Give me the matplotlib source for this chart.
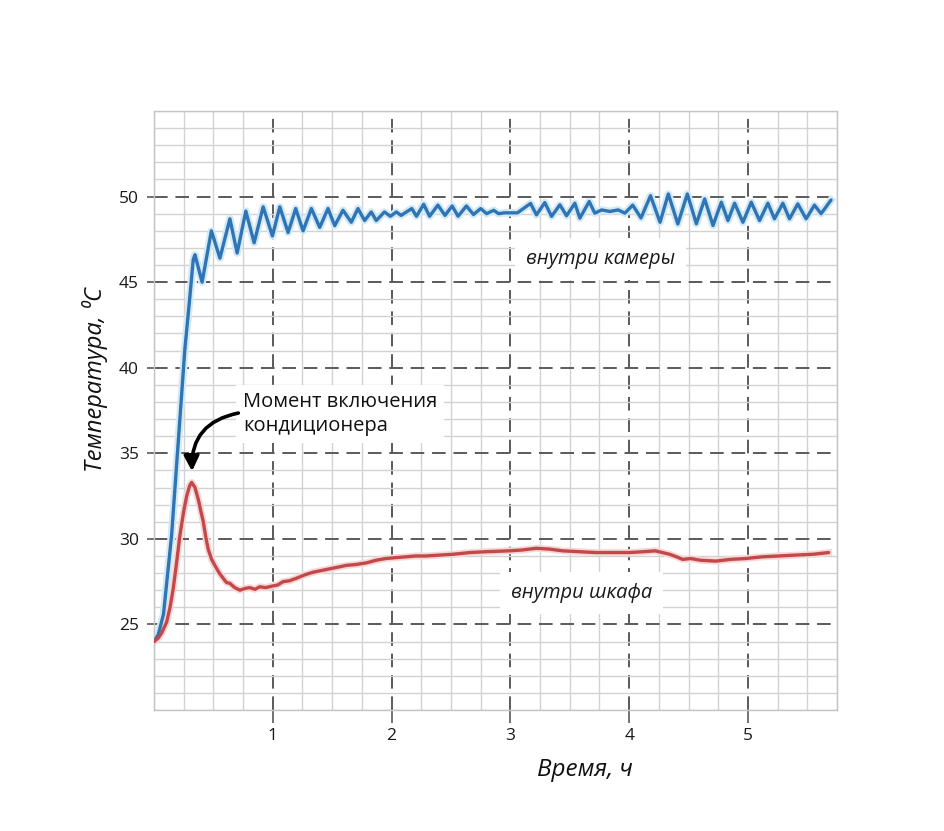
import matplotlib
matplotlib.use("Agg")
import matplotlib.pyplot as plt
from matplotlib.ticker import MultipleLocator, FixedLocator

plt.rcParams['font.family'] = ['Open Sans', 'DejaVu Sans']

# ---- data ----
blue_t = [0.0, 0.036, 0.08, 0.148, 0.26, 0.30, 0.33, 0.345, 0.405, 0.483, 0.555, 0.639, 0.70,
          0.773, 0.843, 0.919, 0.997, 1.059, 1.129, 1.193, 1.255, 1.325, 1.395, 1.465, 1.521,
          1.591, 1.661, 1.717, 1.773, 1.829, 1.871, 1.94, 1.99, 2.04, 2.08, 2.17, 2.21, 2.27,
          2.32, 2.39, 2.45, 2.51, 2.56, 2.63, 2.69, 2.75, 2.80, 2.86, 2.90, 2.95, 3.06, 3.17,
          3.22, 3.29, 3.347, 3.417, 3.473, 3.543, 3.585, 3.664, 3.711, 3.768, 3.838, 3.908,
          3.964, 4.03, 4.10, 4.18, 4.26, 4.33, 4.41, 4.49, 4.566, 4.636, 4.706, 4.776, 4.832,
          4.888, 4.958, 5.028, 5.098, 5.168, 5.224, 5.294, 5.35, 5.42, 5.49, 5.56, 5.616, 5.70]
blue_T = [24.0, 24.4, 25.6, 30.2, 41.1, 44.0, 46.3, 46.6, 45.0, 48.0, 46.4, 48.7, 46.7,
          49.15, 47.3, 49.4, 47.7, 49.4, 47.9, 49.3, 48.0, 49.3, 48.2, 49.3, 48.3,
          49.2, 48.5, 49.3, 48.6, 49.1, 48.6, 49.1, 48.85, 49.1, 48.9, 49.3, 48.85, 49.55,
          48.85, 49.5, 48.9, 49.45, 48.85, 49.45, 48.95, 49.3, 49.0, 49.2, 49.0, 49.05, 49.05, 49.6,
          48.93, 49.65, 48.84, 49.52, 48.88, 49.61, 48.74, 49.71, 49.03, 49.22, 49.13, 49.22,
          49.03, 49.5, 48.75, 50.05, 48.5, 50.15, 48.4, 50.15, 48.41, 49.86, 48.31, 49.67, 48.6,
          49.61, 48.5, 49.67, 48.6, 49.61, 48.7, 49.61, 48.7, 49.57, 48.7, 49.5, 49.0, 49.8]

red_t = [0.0, 0.035, 0.065, 0.107, 0.135, 0.162, 0.19, 0.218, 0.25, 0.275, 0.30, 0.317, 0.345,
         0.373, 0.395, 0.415, 0.436, 0.456, 0.485, 0.512, 0.55, 0.582, 0.61, 0.639, 0.68, 0.723,
         0.765, 0.807, 0.85, 0.89, 0.94, 1.0, 1.04, 1.087, 1.14, 1.2, 1.27, 1.34, 1.41, 1.48,
         1.55, 1.62, 1.7, 1.79, 1.87, 1.95, 2.03, 2.12, 2.2, 2.29, 2.4, 2.52, 2.66, 2.8, 2.99,
         3.1, 3.22, 3.33, 3.44, 3.58, 3.72, 3.86, 4.0, 4.12, 4.22, 4.28, 4.34, 4.40, 4.45, 4.52,
         4.6, 4.73, 4.85, 4.98, 5.12, 5.26, 5.4, 5.55, 5.68]
red_T = [24.0, 24.2, 24.5, 25.15, 26.0, 27.1, 28.6, 30.2, 31.6, 32.5, 33.1, 33.3, 33.0,
         32.3, 31.6, 31.0, 30.1, 29.4, 28.8, 28.45, 28.0, 27.7, 27.45, 27.4, 27.15, 27.0,
         27.1, 27.15, 27.05, 27.2, 27.15, 27.25, 27.3, 27.5, 27.55, 27.7, 27.9, 28.05, 28.15, 28.25,
         28.35, 28.45, 28.5, 28.6, 28.75, 28.85, 28.9, 28.95, 29.0, 29.0, 29.05, 29.1, 29.2, 29.25, 29.3,
         29.35, 29.45, 29.4, 29.3, 29.25, 29.2, 29.2, 29.2, 29.25, 29.3, 29.2, 29.1, 28.95, 28.8, 28.85,
         28.75, 28.7, 28.8, 28.85, 28.95, 29.0, 29.05, 29.1, 29.2]

x_ticks = [1, 2, 3, 4, 5]
y_ticks = [25, 30, 35, 40, 45, 50]

label_blue = "внутри камеры"
label_red = "внутри шкафа"
note_text = "Момент включения\nкондиционера"
xlabel = "Время, ч"
ylabel = "Температура, \u2070C"

# ---- figure ----
fig = plt.figure(figsize=(9.45, 8.31), dpi=100)
ax = fig.add_axes([154/945, 1-710/831, (837-154)/945, (710-111)/831])

ax.set_xlim(0, 5.75)
ax.set_ylim(20, 55)

ax.xaxis.set_major_locator(FixedLocator(x_ticks))
ax.yaxis.set_major_locator(FixedLocator(y_ticks))
ax.xaxis.set_minor_locator(MultipleLocator(0.25))
ax.yaxis.set_minor_locator(MultipleLocator(1))

ax.grid(which='minor', color='#d2d2d2', linewidth=1.0, linestyle='-')
ax.grid(which='major', color='#5a5a5a', linewidth=1.4, linestyle=(0, (7, 4)))
ax.set_axisbelow(True)

for s in ax.spines.values():
    s.set_color('#c4c4c4')
    s.set_linewidth(1.0)

ax.tick_params(which='minor', length=0)
ax.tick_params(axis='x', which='major', length=9, color='#5a5a5a', width=1.2,
               labelsize=12.5, labelcolor='#1a1a1a', pad=4)
ax.tick_params(axis='y', which='major', length=5, color='#5a5a5a', width=1.2,
               labelsize=12.5, labelcolor='#1a1a1a', pad=6)

# glow + lines
ax.plot(blue_t, blue_T, color='#d3eaf6', linewidth=5.5, solid_joinstyle='round', zorder=2)
ax.plot(blue_t, blue_T, color='#2f74b5', linewidth=2.4, solid_joinstyle='round',
        solid_capstyle='round', zorder=3)
ax.plot(red_t, red_T, color='#f5d8d7', linewidth=5, solid_joinstyle='round', zorder=2)
ax.plot(red_t, red_T, color='#c4484a', linewidth=2.4, solid_joinstyle='round',
        solid_capstyle='round', zorder=3)

ax.text(3.76, 46.35, label_blue, ha='center', va='center', fontsize=14.5,
        style='italic', color='#1a1a1a', bbox=dict(facecolor='white', edgecolor='none', pad=8), zorder=4)
ax.text(3.60, 26.85, label_red, ha='center', va='center', fontsize=14.5,
        style='italic', color='#1a1a1a', bbox=dict(facecolor='white', edgecolor='none', pad=8), zorder=4)

ax.text(0.75, 37.3, note_text, ha='left', va='center', fontsize=14.5,
        color='#111111', linespacing=1.3, bbox=dict(facecolor='white', edgecolor='none', pad=5), zorder=4)
ax.annotate('', xy=(0.32, 33.95), xytext=(0.71, 37.35),
            arrowprops=dict(arrowstyle='-|>,head_length=0.9,head_width=0.45', color='black',
                            lw=2.6, connectionstyle='arc3,rad=0.42', shrinkA=0, shrinkB=0),
            zorder=5)

fig.text(95/945, 1-380/831, ylabel, rotation=90, ha='center', va='center',
         fontsize=17, style='italic', color='#111111')
fig.text(585/945, 1-770/831, xlabel, ha='center', va='center',
         fontsize=17.5, style='italic', color='#111111')

fig.savefig('out.png', dpi=100, facecolor='white')
